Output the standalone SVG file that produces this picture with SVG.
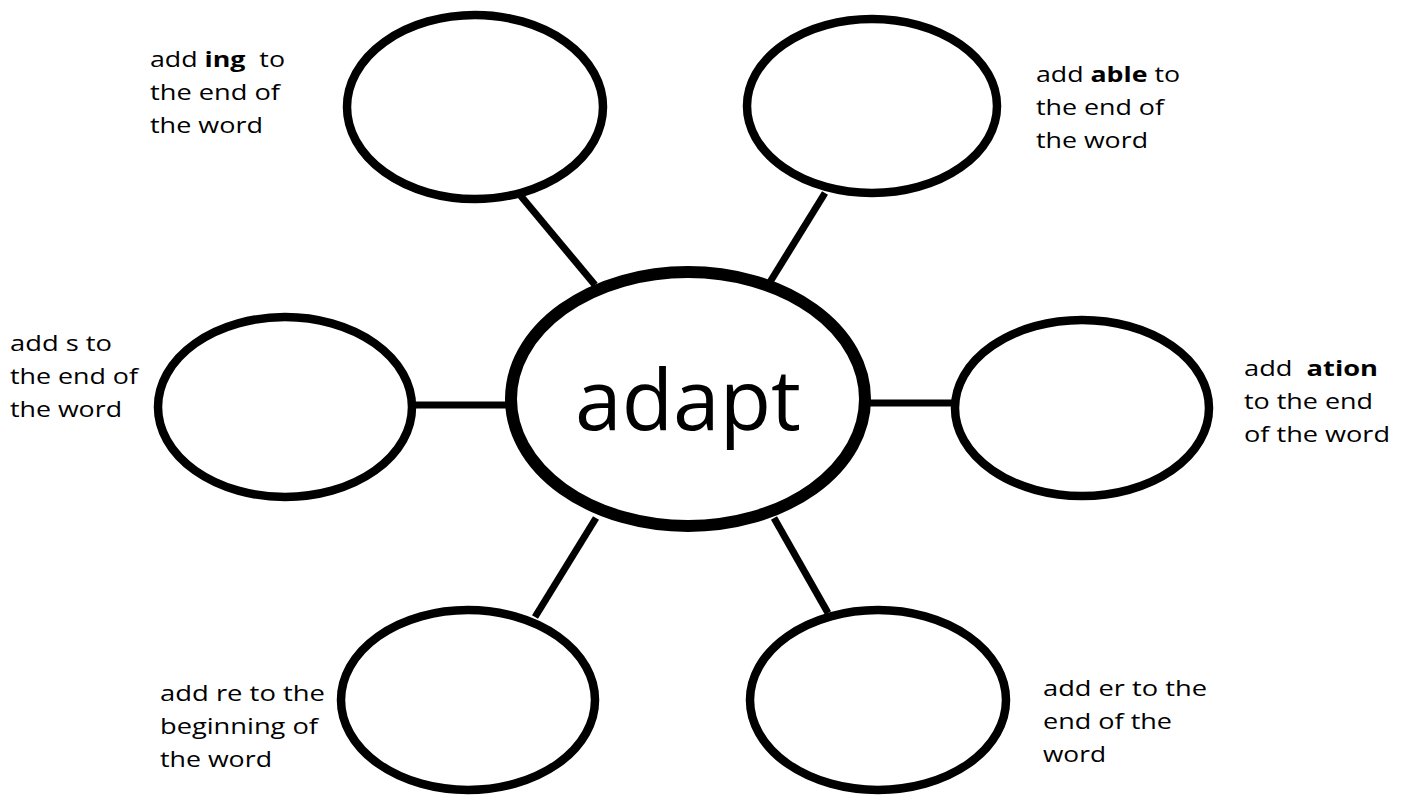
<svg xmlns="http://www.w3.org/2000/svg" width="1403" height="795" viewBox="0 0 1403 795">
<style>
.n{fill:#fff;stroke:#000;stroke-width:8.5}
.c{fill:#fff;stroke:#000;stroke-width:12}
.e{stroke:#000;stroke-width:7;fill:none}
.t{font-family:"Open Sans","Noto Sans",sans-serif;font-size:22px;fill:#000}
.b{font-weight:bold}
</style>
<rect width="1403" height="795" fill="#fff"/>
<g id="connectors">
<line class="e" x1="520" y1="195" x2="595" y2="285"/>
<line class="e" x1="825" y1="193" x2="770" y2="282"/>
<line class="e" x1="412" y1="405" x2="507" y2="405"/>
<line class="e" x1="868" y1="403" x2="956" y2="403"/>
<line class="e" x1="596" y1="518" x2="535" y2="617"/>
<line class="e" x1="774" y1="518" x2="828" y2="613"/>
</g>
<g id="n-ing">
<ellipse class="n" cx="475" cy="107" rx="128" ry="92"/>
<text class="t" x="150" y="67" textLength="135" lengthAdjust="spacingAndGlyphs" xml:space="preserve">add <tspan class="b">ing</tspan>  to</text>
<text class="t" x="150" y="100" textLength="130" lengthAdjust="spacingAndGlyphs">the end of</text>
<text class="t" x="150" y="133" textLength="113" lengthAdjust="spacingAndGlyphs">the word</text>
</g>
<g id="n-able">
<ellipse class="n" cx="872" cy="106" rx="125" ry="87"/>
<text class="t" x="1036" y="82" textLength="144" lengthAdjust="spacingAndGlyphs">add <tspan class="b">able</tspan> to</text>
<text class="t" x="1036" y="115" textLength="128" lengthAdjust="spacingAndGlyphs">the end of</text>
<text class="t" x="1036" y="148" textLength="112" lengthAdjust="spacingAndGlyphs">the word</text>
</g>
<g id="n-s">
<ellipse class="n" cx="285" cy="407" rx="127" ry="90"/>
<text class="t" x="10" y="351" textLength="102" lengthAdjust="spacingAndGlyphs">add s to</text>
<text class="t" x="10" y="384" textLength="128" lengthAdjust="spacingAndGlyphs">the end of</text>
<text class="t" x="10" y="417" textLength="112" lengthAdjust="spacingAndGlyphs">the word</text>
</g>
<g id="n-ation">
<ellipse class="n" cx="1082" cy="408" rx="127" ry="88"/>
<text class="t" x="1244" y="376" textLength="134" lengthAdjust="spacingAndGlyphs" xml:space="preserve">add  <tspan class="b">ation</tspan></text>
<text class="t" x="1244" y="409" textLength="129" lengthAdjust="spacingAndGlyphs">to the end</text>
<text class="t" x="1244" y="442" textLength="146" lengthAdjust="spacingAndGlyphs">of the word</text>
</g>
<g id="n-re">
<ellipse class="n" cx="468" cy="700" rx="127" ry="90"/>
<text class="t" x="160" y="701" textLength="165" lengthAdjust="spacingAndGlyphs">add re to the</text>
<text class="t" x="160" y="734" textLength="158" lengthAdjust="spacingAndGlyphs">beginning of</text>
<text class="t" x="160" y="767" textLength="112" lengthAdjust="spacingAndGlyphs">the word</text>
</g>
<g id="n-er">
<ellipse class="n" cx="878" cy="700" rx="128" ry="90"/>
<text class="t" x="1043" y="696" textLength="164" lengthAdjust="spacingAndGlyphs">add er to the</text>
<text class="t" x="1043" y="729" textLength="129" lengthAdjust="spacingAndGlyphs">end of the</text>
<text class="t" x="1043" y="762" textLength="63" lengthAdjust="spacingAndGlyphs">word</text>
</g>
<g id="n-center">
<ellipse class="c" cx="688" cy="399" rx="177" ry="127"/>
<text x="688" y="430" text-anchor="middle" font-family="'Open Sans','Noto Sans',sans-serif" font-size="84" fill="#000">adapt</text>
</g>
</svg>
